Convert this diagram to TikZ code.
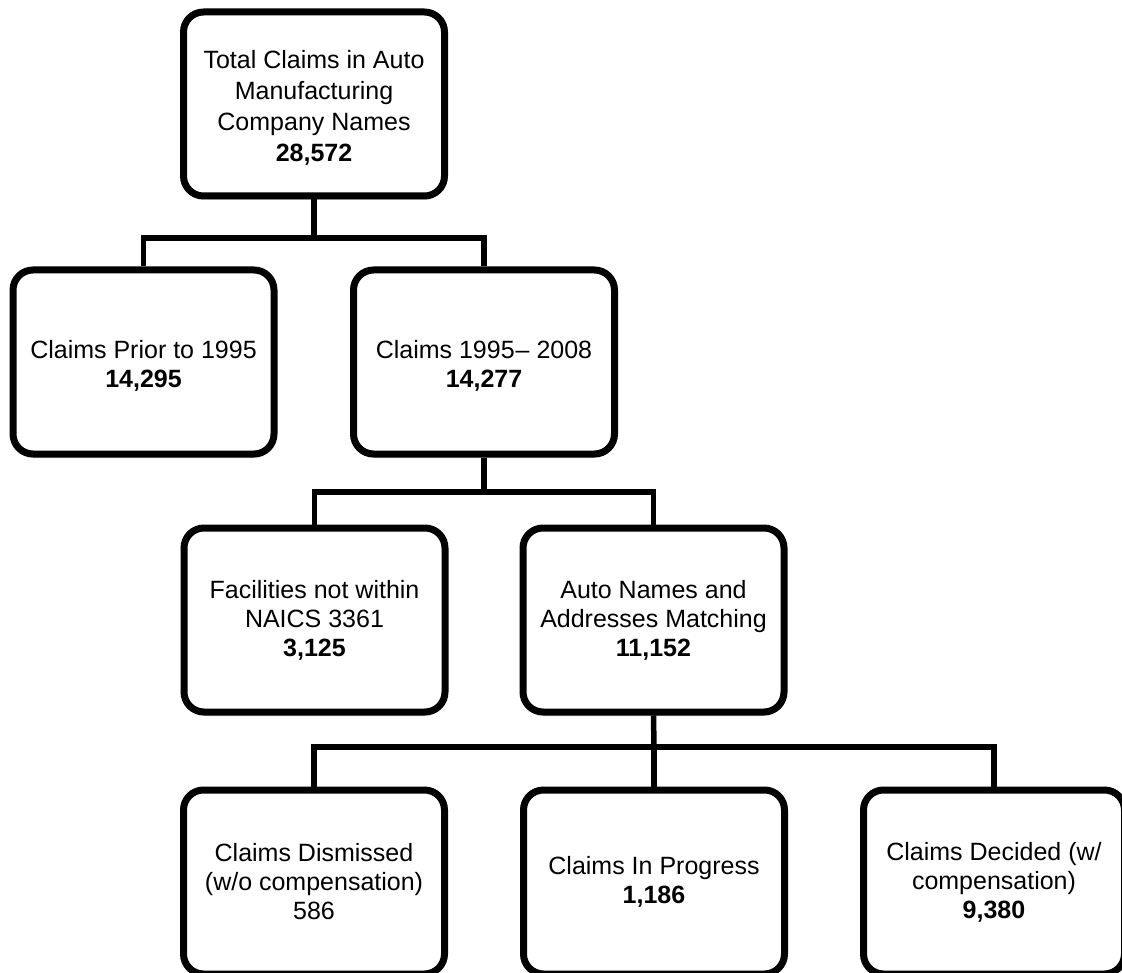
\documentclass[tikz,border=0pt]{standalone}
\usepackage{fontspec}
\setmainfont{Liberation Sans}
\usetikzlibrary{shadows}
\tikzset{
  box/.style={draw, line width=7pt, rounded corners=20pt, fill=white,
    minimum width=261pt, minimum height=184pt, align=center, inner sep=0pt,
    font=\fontsize{25}{29}\selectfont,
    drop shadow={opacity=0.3, shadow xshift=0pt, shadow yshift=-4pt}},
  conn/.style={line width=5.5pt}
}
\begin{document}
\begin{tikzpicture}[x=1pt,y=-1pt]
\useasboundingbox (0,0) rectangle (1122,973);
\node[box, font=\fontsize{25}{31}\selectfont] (top) at (314,104) {\rule{0pt}{26pt}Total Claims in Auto\\Manufacturing\\Company Names\\\textbf{28,572}};
\node[box] (prior) at (143.5,362) {\rule{0pt}{25pt}Claims Prior to 1995\\\textbf{14,295}};
\node[box] (range) at (484,362) {\rule{0pt}{25pt}Claims 1995\kern1pt– 2008\\\textbf{14,277}};
\node[box] (naics) at (314.5,620) {Facilities not within\\NAICS 3361\\\textbf{3,125}};
\node[box] (match) at (653.5,620) {Auto Names and\\Addresses Matching\\\textbf{11,152}};
\node[box] (dism) at (314,882) {Claims Dismissed\\(w/o compensation)\\586};
\node[box] (prog) at (654,882) {Claims In Progress\\\textbf{1,186}};
\node[box] (dec) at (994,882) {Claims Decided (w/\\compensation)\\\textbf{9,380}};
\coordinate (j1) at (314,238);
\coordinate (j2) at (484,492);
\coordinate (j3) at (654,747);
\draw[conn] (top.south) -- (j1);
\draw[conn] (prior.north) |- (j1) -| (range.north);
\draw[conn] (range.south) -- (j2);
\draw[conn] (naics.north) |- (j2) -| (match.north);
\draw[conn] (match.south) -- (j3);
\draw[conn] (dism.north) |- (j3) -| (dec.north);
\draw[conn] (j3) -- (prog.north);
\end{tikzpicture}
\end{document}
